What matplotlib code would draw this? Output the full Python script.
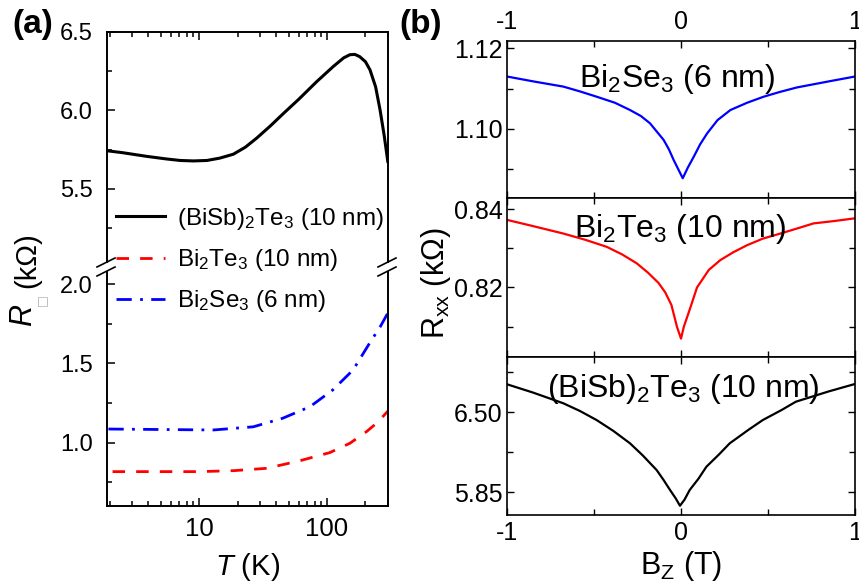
import matplotlib
matplotlib.use("Agg")
import matplotlib.pyplot as plt
from matplotlib.lines import Line2D
from matplotlib.patches import Rectangle
from matplotlib.ticker import LogLocator, NullFormatter, FixedLocator, FormatStrFormatter, FuncFormatter

plt.rcParams['font.family'] = ['Liberation Sans', 'DejaVu Sans']
plt.rcParams['mathtext.fontset'] = 'custom'
plt.rcParams['mathtext.rm'] = 'Liberation Sans'
plt.rcParams['mathtext.it'] = 'Liberation Sans:italic'
plt.rcParams['mathtext.bf'] = 'Liberation Sans:bold'
plt.rcParams['axes.unicode_minus'] = False

# ---------------- data: panel (a) R_sheet vs T ----------------
T_bst = [1.9, 2.5, 3.9, 5.5, 7.1, 9.0, 11.5, 14.5, 18.5, 23, 28.2, 36, 45.6, 60, 83, 112, 135, 151, 165, 180, 200, 217, 240, 260, 280, 300]
R_bst = [5.742, 5.73, 5.706, 5.69, 5.68, 5.677, 5.68, 5.695, 5.72, 5.765, 5.823, 5.90, 5.98, 6.07, 6.183, 6.28, 6.335, 6.355, 6.357, 6.343, 6.31, 6.258, 6.15, 6.003, 5.84, 5.664]

T_bte = [2.1, 4.0, 10, 18.5, 33.8, 61.5, 105, 151, 204, 250, 300]
R_bte = [0.817, 0.817, 0.817, 0.823, 0.838, 0.886, 0.937, 0.996, 1.07, 1.13, 1.20]

T_bse = [1.95, 5.0, 12.9, 26.5, 45, 73.6, 111, 160, 216, 260, 300]
R_bse = [1.086, 1.083, 1.080, 1.10, 1.154, 1.227, 1.333, 1.459, 1.63, 1.73, 1.82]

labels_a = ['(BiSb)$_2$Te$_3$ (10 nm)', 'Bi$_2$Te$_3$ (10 nm)', 'Bi$_2$Se$_3$ (6 nm)']

# ---------------- data: panel (b) R_xx vs B ----------------
B_se = [-1.0, -0.85, -0.676, -0.58, -0.485, -0.38, -0.293, -0.23, -0.178, -0.10, -0.07, -0.042, 0.01,
        0.04, 0.073, 0.11, 0.15, 0.21, 0.284, 0.38, 0.475, 0.57, 0.667, 0.85, 1.0]
R_se = [1.1130, 1.1118, 1.1105, 1.1093, 1.1080, 1.1065, 1.1047, 1.1032, 1.1014, 1.0973, 1.0950, 1.0923, 1.0878,
        1.0905, 1.0931, 1.0962, 1.0989, 1.1022, 1.1047, 1.1065, 1.1080, 1.1092, 1.1103, 1.1118, 1.1130]

B_te = [-1.0, -0.85, -0.676, -0.55, -0.427, -0.34, -0.255, -0.19, -0.13, -0.09, -0.055, -0.023, 0.0,
        0.016, 0.055, 0.092, 0.16, 0.226, 0.30, 0.379, 0.47, 0.571, 0.66, 0.762, 0.88, 1.0]
R_te = [0.8373, 0.8357, 0.8338, 0.8322, 0.8304, 0.8285, 0.8262, 0.8238, 0.8212, 0.8187, 0.8155, 0.8099, 0.8069,
        0.8099, 0.8150, 0.8200, 0.8245, 0.8270, 0.8290, 0.8308, 0.8325, 0.8338, 0.8350, 0.8364, 0.8370, 0.8377]

B_bst = [-1.0, -0.85, -0.676, -0.58, -0.485, -0.39, -0.293, -0.22, -0.14, -0.10, -0.063, -0.03, -0.006,
         0.02, 0.05, 0.10, 0.146, 0.22, 0.28, 0.39, 0.47, 0.58, 0.66, 0.85, 1.0]
R_bst_b = [6.7275, 6.66, 6.573, 6.51, 6.437, 6.35, 6.248, 6.15, 6.031, 5.95, 5.869, 5.80, 5.741,
           5.79, 5.869, 5.96, 6.058, 6.16, 6.248, 6.36, 6.437, 6.52, 6.586, 6.67, 6.73]

labels_b = ['Bi$_2$Se$_3$ (6 nm)', 'Bi$_2$Te$_3$ (10 nm)', '(BiSb)$_2$Te$_3$ (10 nm)']
ylims_b = [(1.0829, 1.1218), (0.8022, 0.8429), (5.666, 6.949)]
yticks_b = [[1.10, 1.12], [0.82, 0.84], [5.85, 6.50]]
yminor_b = [[1.09, 1.11], [0.81, 0.83], [6.175, 6.825]]
colors_b = ['#0000ff', '#ff0000', 'black']

W, H = 859, 588
fig = plt.figure(figsize=(W / 100, H / 100), dpi=100)


def rect(l, t, r, b):
    return [l / W, 1 - b / H, (r - l) / W, (b - t) / H]


def fx(x):
    return x / W


def fy(y):
    return 1 - y / H


SPW = 1.4

# ---------------- panel (a) ----------------
ax1 = fig.add_axes(rect(107, 32, 388, 267))
ax2 = fig.add_axes(rect(107, 267, 388, 506))
for ax in (ax1, ax2):
    ax.set_xscale('log')
    ax.set_xlim(1.9, 300)
    for s in ax.spines.values():
        s.set_linewidth(SPW)
    ax.plot(T_bst, R_bst, color='black', lw=2.2, solid_capstyle='butt')
    ax.plot(T_bte, R_bte, color='#ff0000', lw=2.0, dashes=(4.5, 4))
    ax.plot(T_bse, R_bse, color='#0000ff', lw=2.0, dashes=(5.5, 3, 1, 3))
    ax.xaxis.set_major_locator(LogLocator(base=10, numticks=10))
    ax.xaxis.set_minor_locator(LogLocator(base=10, subs=range(2, 10), numticks=20))
    ax.xaxis.set_minor_formatter(NullFormatter())
    ax.tick_params(which='both', direction='in', width=1.1, right=False)
    ax.tick_params(which='major', length=6)
    ax.tick_params(which='minor', length=3.5)
    ax.tick_params(axis='y', labelsize=17, pad=10)

ax1.set_ylim(5.0, 6.5)
ax1.yaxis.set_major_locator(FixedLocator([5.5, 6.0, 6.5]))
ax1.yaxis.set_minor_locator(FixedLocator([5.25, 5.75, 6.25]))
ax1.yaxis.set_major_formatter(FormatStrFormatter('%.1f'))
ax1.spines['bottom'].set_visible(False)
ax1.tick_params(which='both', bottom=False, top=True, labelbottom=False)

ax2.set_ylim(0.600, 2.109)
ax2.yaxis.set_major_locator(FixedLocator([1.0, 1.5, 2.0]))
ax2.yaxis.set_minor_locator(FixedLocator([0.75, 1.25, 1.75]))
ax2.yaxis.set_major_formatter(FormatStrFormatter('%.1f'))
ax2.spines['top'].set_visible(False)
ax2.tick_params(which='both', top=False)
ax2.tick_params(axis='x', labelsize=18.5, pad=8)
ax2.xaxis.set_major_formatter(FuncFormatter(lambda v, p: '%d' % round(v)))

# break marks
for xs in (107, 388):
    fig.patches.append(Rectangle((fx(xs - 3), fy(271)), 6 / W, 8 / H, transform=fig.transFigure,
                                 facecolor='white', edgecolor='none', zorder=5))
    for dy in (0, 9):
        fig.lines.append(Line2D([fx(xs - 10), fx(xs + 8)], [fy(267 + dy), fy(258 + dy)],
                                transform=fig.transFigure, color='black', lw=1.2, zorder=6))

# legend
handles = [Line2D([], [], color='black', lw=2.2),
           Line2D([], [], color='#ff0000', lw=2.0, dashes=(4.5, 4)),
           Line2D([], [], color='#0000ff', lw=2.0, dashes=(5.5, 3, 1, 3))]
fig.legend(handles, labels_a, loc='upper left', bbox_to_anchor=(fx(116), fy(206)),
           frameon=False, fontsize=17.5, handlelength=2.0, handletextpad=0.5,
           labelspacing=0.62, borderpad=0, borderaxespad=0)

fig.text(fx(248), fy(567), '$T$ (K)', fontsize=21, ha='center', va='center')
fig.text(fx(24), fy(315), '$R$', fontsize=22, ha='center', va='center', rotation=90)
fig.text(fx(42), fy(300), '\u25a1', fontsize=9, ha='center', va='center', rotation=90,
         color='#b0b0b0', family='DejaVu Sans')
fig.text(fx(27), fy(260), '(k\u03a9)', fontsize=21, ha='center', va='center', rotation=90)
fig.text(fx(33), fy(24), '(a)', fontsize=24, fontweight='bold', ha='center', va='center')
fig.text(fx(421), fy(24), '(b)', fontsize=24, fontweight='bold', ha='center', va='center')

# ---------------- panel (b) ----------------
bounds = [41, 198, 357, 515]
Bs = [B_se, B_te, B_bst]
Rs = [R_se, R_te, R_bst_b]
txt_pos = [(0.489, 0.758), (0.497, 0.805), (0.506, 0.797)]
for i in range(3):
    ax = fig.add_axes(rect(507, bounds[i], 855, bounds[i + 1]))
    ax.plot(Bs[i], Rs[i], color=colors_b[i], lw=1.6)
    ax.set_xlim(-1, 1)
    ax.set_ylim(*ylims_b[i])
    ax.xaxis.set_major_locator(FixedLocator([-1, 0, 1]))
    ax.xaxis.set_minor_locator(FixedLocator([-0.5, 0.5]))
    ax.xaxis.set_major_formatter(FuncFormatter(lambda v, p: '%d' % round(v)))
    ax.yaxis.set_major_locator(FixedLocator(yticks_b[i]))
    ax.yaxis.set_minor_locator(FixedLocator(yminor_b[i]))
    ax.yaxis.set_major_formatter(FormatStrFormatter('%.2f'))
    for s in ax.spines.values():
        s.set_linewidth(SPW * 0.85)
    ax.tick_params(which='both', direction='in', top=True, right=True, bottom=True, left=True,
                   width=1.0, labelsize=18)
    ax.tick_params(which='major', length=5)
    ax.tick_params(which='minor', length=4.5)
    ax.tick_params(axis='y', pad=3)
    ax.tick_params(axis='x', labelbottom=(i == 2), labeltop=(i == 0), pad=(5 if i == 0 else 4))
    ax.text(txt_pos[i][0], txt_pos[i][1], labels_b[i], transform=ax.transAxes,
            fontsize=23, ha='center', va='center')

fig.text(fx(436), fy(283), 'R$_\\mathrm{xx}$ (k\u03a9)', fontsize=22, ha='center', va='center', rotation=90)
fig.text(fx(681), fy(566), 'B$_\\mathrm{Z}$ (T)', fontsize=22, ha='center', va='center')

fig.savefig('out.png', dpi=100)
